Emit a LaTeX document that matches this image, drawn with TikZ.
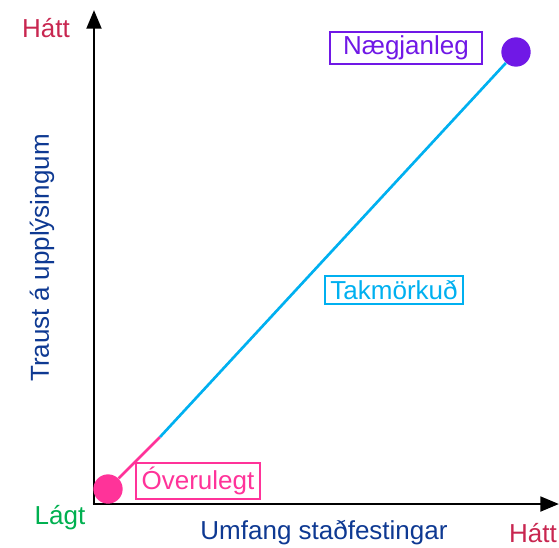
\documentclass[tikz,border=0pt]{standalone}
\usepackage{fontspec}
\setmainfont{Liberation Sans}
\usetikzlibrary{arrows.meta}
\definecolor{hicol}{RGB}{200,38,80}
\definecolor{locol}{RGB}{0,176,80}
\definecolor{axcol}{RGB}{14,57,146}
\definecolor{purp}{RGB}{112,24,230}
\definecolor{cyanc}{RGB}{0,176,240}
\definecolor{pinkc}{RGB}{255,51,153}
\tikzset{
  lbl/.style={font=\fontsize{19.5}{22}\selectfont, inner sep=0pt},
  tag/.style={lbl, draw, line width=1.5pt, inner xsep=4pt, inner ysep=3pt},
  axis/.style={line width=2.2pt, -{Triangle[length=14pt,width=11pt]}},
  dot/.style={circle, inner sep=0pt, minimum size=22pt},
  seg/.style={line width=2pt}
}
\begin{document}
\begin{tikzpicture}[x=0.75pt,y=-0.75pt]
\useasboundingbox (0,0) rectangle (559,547);
% axes
\coordinate (o) at (94,504);
\coordinate (ytop) at (94,10);
\coordinate (xend) at (559,504);
\draw[axis] (o) -- (ytop);
\draw[axis] ([xshift=-1.1pt]o) -- (xend);
% axis labels
\node[lbl, text=hicol] (yhi) at (46,28) {Hátt};
\node[lbl, text=locol] (lo) at (60,518) {Lágt};
\node[lbl, text=hicol] (xhi) at (533,533) {Hátt};
\node[lbl, text=axcol] (xlab) at (324,533) {Umfang staðfestingar};
\node[lbl, text=axcol, rotate=90] (ylab) at (42,258) {Traust á upplýsingum};
% curve and points
\node[dot, fill=pinkc] (low) at (108,489) {};
\node[dot, fill=purp] (high) at (516,52) {};
\coordinate (mid) at (160,437);
\draw[seg, pinkc] (low) -- (mid);
\draw[seg, cyanc] (mid) -- (high);
% region labels
\node[tag, draw=purp, text=purp, inner xsep=9.5pt] (n) at (406,48) {Nægjanleg};
\node[tag, draw=cyanc, text=cyanc] (t) at (394,290) {Takmörkuð};
\node[tag, draw=pinkc, text=pinkc] (v) at (198,481) {Óverulegt};
\end{tikzpicture}
\end{document}
